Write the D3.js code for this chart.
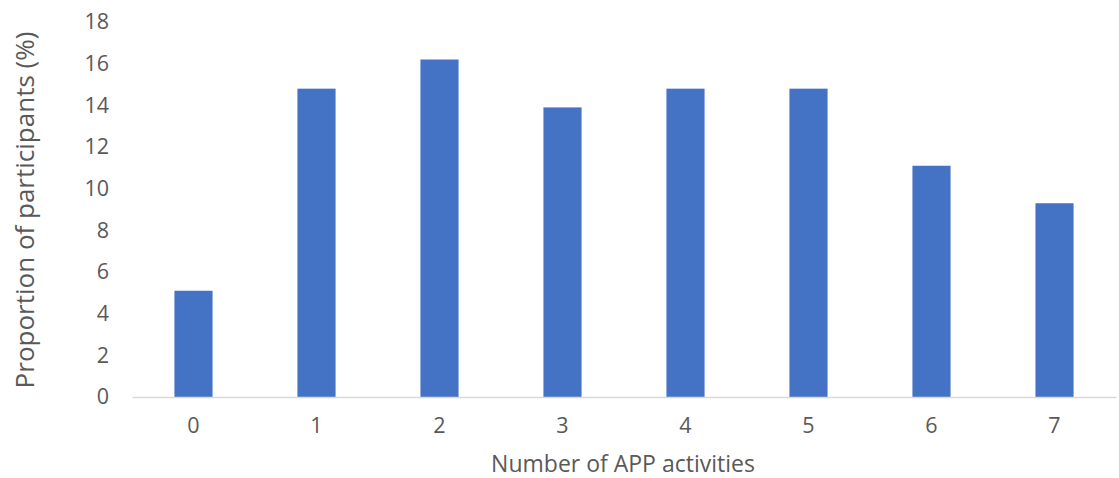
<!DOCTYPE html>
<html><head><meta charset="utf-8">
<script src="https://cdn.jsdelivr.net/npm/d3@7"></script>
<style>body{margin:0;background:#fff}svg{display:block}</style>
</head><body>
<svg id="c" width="1119" height="478"></svg>
<script>
const categories = ["0","1","2","3","4","5","6","7"];
const values = [5.1, 14.8, 16.2, 13.9, 14.8, 14.8, 11.1, 9.3];
const yTicks = [0,2,4,6,8,10,12,14,16,18];
const xTitle = "Number of APP activities";
const yTitle = "Proportion of participants (%)";

const svg = d3.select("#c");
const font = "'Open Sans', sans-serif";
const x = d3.scaleBand().domain(categories).range([132, 1116]).paddingInner(0.69).paddingOuter(0.345);
const y = d3.scaleLinear().domain([0, 18]).range([397, 22]);

svg.selectAll("rect.bar").data(values).join("rect")
  .attr("class","bar")
  .attr("x",(d,i)=>x(categories[i]))
  .attr("width",x.bandwidth())
  .attr("y",d=>y(d))
  .attr("height",d=>y(0)-y(d))
  .attr("fill","#4472C4");

const ya = svg.append("g").attr("transform","translate(132,0)")
  .call(d3.axisLeft(y).tickValues(yTicks).tickSize(0).tickPadding(23));
ya.select(".domain").remove();
ya.selectAll("text").attr("font-family",font).attr("font-size",21.5).attr("fill","#595959");

const xa = svg.append("g").attr("transform","translate(0,397)")
  .call(d3.axisBottom(x).tickSize(0).tickPadding(21));
xa.select(".domain").attr("stroke","#D9D9D9").attr("stroke-width",1.5);
xa.selectAll("text").attr("font-family",font).attr("font-size",21.5).attr("fill","#595959");

svg.append("text").attr("x",623).attr("y",466).attr("text-anchor","middle")
  .attr("dominant-baseline","middle")
  .attr("font-family",font).attr("font-size",23).attr("fill","#595959").text(xTitle);
svg.append("text").attr("transform","translate(27,210) rotate(-90)").attr("text-anchor","middle")
  .attr("dominant-baseline","middle")
  .attr("font-family",font).attr("font-size",26).attr("fill","#595959").text(yTitle);
</script>
</body></html>
